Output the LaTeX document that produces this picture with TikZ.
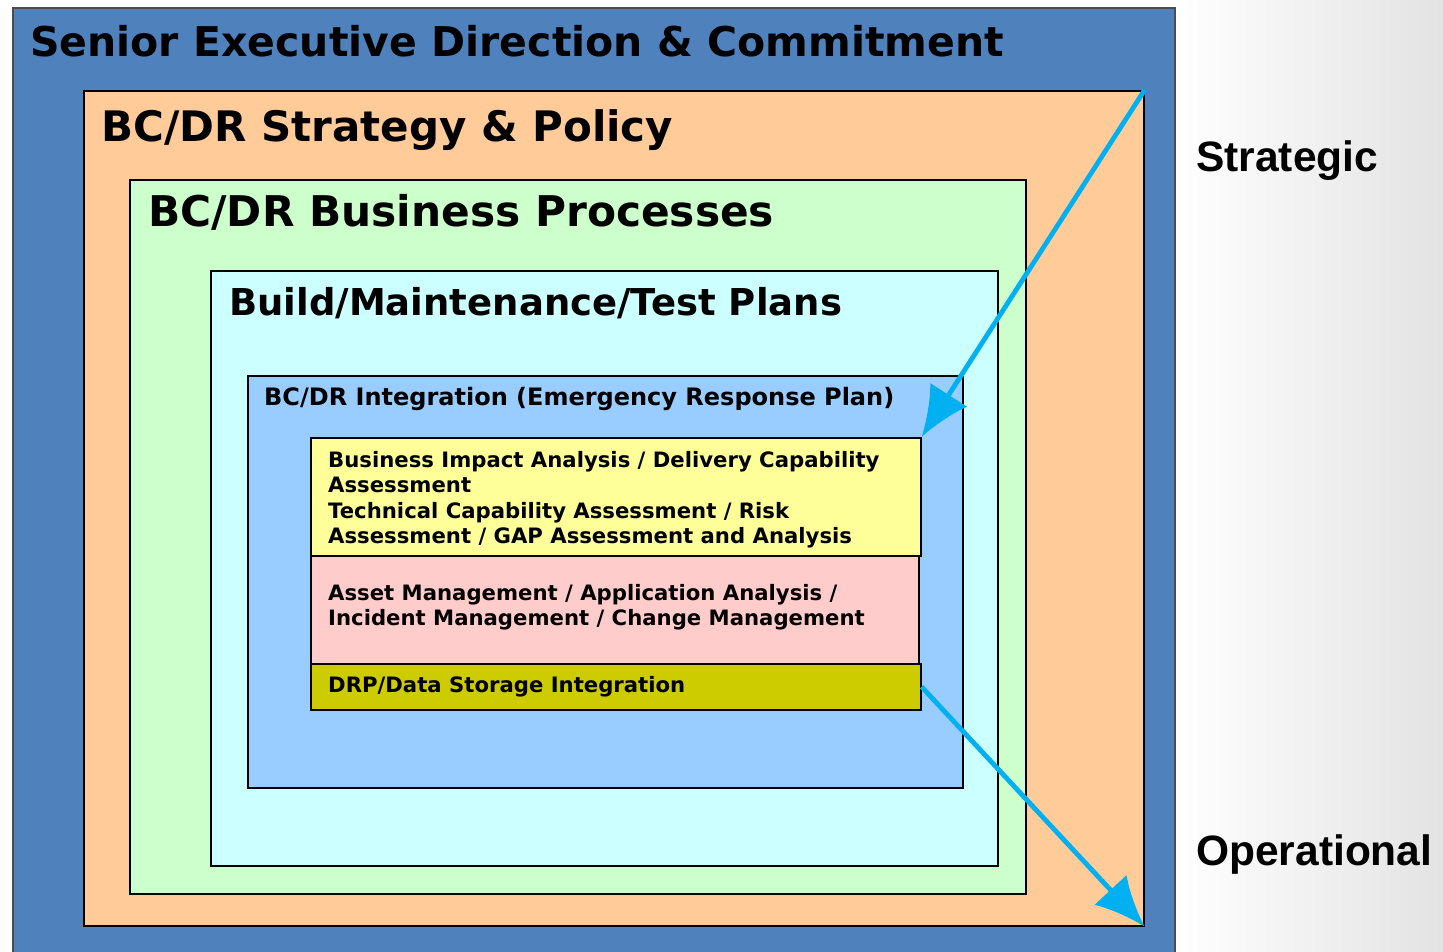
\documentclass[tikz,border=0pt]{standalone}
\usepackage{fontspec}
\newfontfamily\boxfont{DejaVu Sans}
\newfontfamily\sidefont{Liberation Sans}
\usetikzlibrary{positioning, arrows.meta}

\definecolor{execblue}{HTML}{4F81BD}
\definecolor{policyorange}{HTML}{FFCC99}
\definecolor{procgreen}{HTML}{CCFFCC}
\definecolor{plancyan}{HTML}{CCFFFF}
\definecolor{integblue}{HTML}{99CCFF}
\definecolor{biayellow}{HTML}{FFFF99}
\definecolor{assetpink}{HTML}{FFCCCC}
\definecolor{drpolive}{HTML}{CCCC00}
\definecolor{flowblue}{HTML}{00B0F0}

\begin{document}
\begin{tikzpicture}[x=1pt, y=-1pt,
  layer/.style={draw=black, line width=1.6pt, anchor=north west, inner sep=0pt},
  title/.style={anchor=base west, inner sep=0pt},
  inner/.style={anchor=north west, inner sep=0pt, align=left, font=\boxfont\bfseries\fontsize{21.2}{25.5}\selectfont},
  side/.style={anchor=base west, inner sep=0pt, font=\sidefont\bfseries\fontsize{42.5}{42.5}\selectfont},
  flow/.style={draw=flowblue, line width=4.8pt, -{Latex[length=50pt, width=44pt]}}]
  \useasboundingbox (0,0) rectangle (1443,952);
  \shade[left color=white, right color=black!11] (1174,0) rectangle (1443,952);
  % nested layers
  \node[layer, fill=execblue, draw=black!70, minimum width=1162pt, minimum height=960pt] (exec) at (12,7) {};
  \node[layer, fill=policyorange, minimum width=1060pt, minimum height=835pt] (policy) at (83,90) {};
  \node[layer, fill=procgreen, minimum width=896pt, minimum height=714pt] (proc) at (129,179) {};
  \node[layer, fill=plancyan, minimum width=787pt, minimum height=595pt] (plans) at (210,270) {};
  \node[layer, fill=integblue, minimum width=715pt, minimum height=412pt] (integ) at (247,375) {};
  \node[layer, fill=biayellow, minimum width=610pt, minimum height=118pt] (bia) at (310,437) {};
  \node[layer, fill=assetpink, minimum width=608pt, minimum height=108pt] (asset) at (310,555) {};
  \node[layer, fill=drpolive, minimum width=610pt, minimum height=46pt] (drp) at (310,663) {};
  % titles
  \node[title, font=\boxfont\bfseries\fontsize{41}{41}\selectfont] (execlbl) at (30,57) {Senior Executive Direction \& Commitment};
  \node[title, font=\boxfont\bfseries\fontsize{42}{42}\selectfont] (policylbl) at (101,142) {BC/DR Strategy \& Policy};
  \node[title, font=\boxfont\bfseries\fontsize{42.3}{42}\selectfont] (proclbl) at (148,227) {BC/DR Business Processes};
  \node[title, font=\boxfont\bfseries\fontsize{37}{37}\selectfont] (planslbl) at (229,315) {Build/Maintenance/Test Plans};
  \node[title, font=\boxfont\bfseries\fontsize{24}{24}\selectfont] (integlbl) at (264,405) {BC/DR Integration (Emergency Response Plan)};
  \node[inner] (biatxt) at (328,451) {Business Impact Analysis / Delivery Capability\\Assessment\\Technical Capability Assessment / Risk\\Assessment / GAP Assessment and Analysis};
  \node[inner] (assettxt) at (328,584) {Asset Management / Application Analysis /\\Incident Management / Change Management};
  \node[inner] (drptxt) at (328,676) {DRP/Data Storage Integration};
  % side labels
  \node[side] (strat) at (1196,172) {Strategic};
  \node[side] (oper) at (1196,865) {Operational};
  % flow arrows
  \draw[flow] (policy.north east) -- (bia.north east);
  \draw[flow] (drp.east) -- (policy.south east);
\end{tikzpicture}
\end{document}
